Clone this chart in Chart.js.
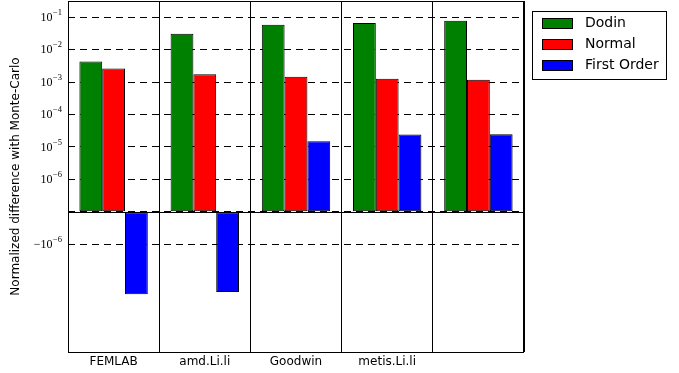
<!DOCTYPE html>
<html>
<head>
<meta charset="utf-8">
<script src="https://cdn.jsdelivr.net/npm/chart.js@4/dist/chart.umd.min.js"></script>
<style>
  html, body { margin: 0; padding: 0; background: #fff; }
  canvas { display: block; }
</style>
</head>
<body>
<canvas id="chart" width="679" height="373"></canvas>
<script>
// Benchmarks and method errors relative to Monte-Carlo
const categories = ['FEMLAB', 'amd.Li.li', 'Goodwin', 'metis.Li.li', ''];
const dodin      = [4.3e-3, 3.1e-2, 5.9e-2, 6.6e-2, 7.8e-2];
const normal     = [2.6e-3, 1.74e-3, 1.45e-3, 1.26e-3, 1.18e-3];
const firstOrder = [-3.5e-5, -2.95e-5, 1.5e-5, 2.4e-5, 2.45e-5];

// Symmetric-log axis: ticks and their labels ("base^exponent")
const yTickValues = [-1e-6, 0, 1e-6, 1e-5, 1e-4, 1e-3, 1e-2, 1e-1];
const yTickLabels = ['\u221210^\u22126', '', '10^\u22126', '10^\u22125', '10^\u22124', '10^\u22123', '10^\u22122', '10^\u22121'];
const yMin = -2.1e-3;
const yMax = 0.316;
const LINTHRESH = 1e-6;

function symlog(v) {
  const a = Math.abs(v);
  if (a <= LINTHRESH) return v / LINTHRESH;
  return Math.sign(v) * (1 + Math.log10(a / LINTHRESH));
}
function symexp(t) {
  const a = Math.abs(t);
  if (a <= 1) return t * LINTHRESH;
  return Math.sign(t) * LINTHRESH * Math.pow(10, a - 1);
}

class SymlogScale extends Chart.Scale {
  static id = 'symlog';
  static defaults = {};
  determineDataLimits() {
    const { min, max } = this.getMinMax(true);
    this.min = this.options.min ?? min;
    this.max = this.options.max ?? max;
  }
  buildTicks() {
    return yTickValues.filter(v => v >= this.min && v <= this.max).map(v => ({ value: v }));
  }
  configure() {
    super.configure();
    this._tStart = symlog(this.min);
    this._tEnd = symlog(this.max);
  }
  getLabelForValue(v) { return String(v); }
  getPixelForValue(v) {
    return this.getPixelForDecimal((symlog(v) - this._tStart) / (this._tEnd - this._tStart));
  }
  getValueForPixel(p) {
    return symexp(this._tStart + this.getDecimalForPixel(p) * (this._tEnd - this._tStart));
  }
}
Chart.register(SymlogScale);

const legendItems = [
  { label: 'Dodin', color: '#008000' },
  { label: 'Normal', color: '#ff0000' },
  { label: 'First Order', color: '#0000ff' }
];

// Frame, zero line, math-style tick labels and the boxed legend
const decorations = {
  id: 'decorations',
  afterDatasetsDraw(chart) {
    const { ctx, chartArea: a } = chart;
    const y = chart.scales.y;
    ctx.save();
    ctx.setLineDash([]);
    ctx.strokeStyle = '#000';
    ctx.lineWidth = 1;
    const y0 = Math.round(y.getPixelForValue(0)) + 0.5;
    ctx.beginPath();
    ctx.moveTo(a.left, y0);
    ctx.lineTo(a.right, y0);
    ctx.stroke();
    ctx.strokeRect(Math.round(a.left) + 0.5, Math.round(a.top) + 0.5,
                   Math.round(a.right - a.left) - 1, Math.round(a.bottom - a.top));

    // tick labels
    ctx.fillStyle = '#000';
    ctx.textBaseline = 'middle';
    y.ticks.forEach((t, i) => {
      const lbl = yTickLabels[yTickValues.indexOf(t.value)];
      if (!lbl) return;
      const [base, exp] = lbl.split('^');
      const py = y.getPixelForValue(t.value);
      const right = a.left - 6;
      ctx.font = '8.5px "Liberation Serif"';
      const ew = ctx.measureText(exp).width;
      ctx.textAlign = 'left';
      ctx.fillText(exp, right - ew, py - 4.5);
      ctx.font = '12px "Liberation Serif"';
      ctx.textAlign = 'right';
      ctx.fillText(base, right - ew - 0.5, py + 0.5);
    });

    // legend
    const lx = 532.5, ly = 11.5, lw = 134, lh = 68;
    ctx.fillStyle = '#fff';
    ctx.fillRect(lx, ly, lw, lh);
    ctx.strokeRect(lx, ly, lw, lh);
    ctx.font = '14px "DejaVu Sans"';
    ctx.textAlign = 'left';
    ctx.textBaseline = 'middle';
    legendItems.forEach((it, i) => {
      const ry = 18.5 + i * 21;
      ctx.fillStyle = it.color;
      ctx.fillRect(543, ry, 30, 10);
      ctx.strokeRect(542.5, ry, 30, 10);
      ctx.fillStyle = '#000';
      ctx.fillText(it.label, 585, ry + 5);
    });
    ctx.restore();
  }
};

new Chart(document.getElementById('chart'), {
  type: 'bar',
  data: {
    labels: categories,
    datasets: [
      { label: 'Dodin', data: dodin, backgroundColor: '#008000' },
      { label: 'Normal', data: normal, backgroundColor: '#ff0000' },
      { label: 'First Order', data: firstOrder, backgroundColor: '#0000ff' }
    ].map(d => Object.assign(d, { borderColor: '#000', borderWidth: 1, borderSkipped: false }))
  },
  options: {
    responsive: false,
    animation: false,
    devicePixelRatio: 1,
    categoryPercentage: 0.75,
    barPercentage: 1.0,
    layout: { padding: { top: 1, right: 155, left: 0, bottom: 0 } },
    plugins: { legend: { display: false }, tooltip: { enabled: false } },
    scales: {
      x: {
        type: 'category',
        offset: true,
        grid: { offset: true, color: '#000', lineWidth: 1, drawTicks: false },
        border: { display: false },
        ticks: { color: '#000', padding: 3, font: { family: 'DejaVu Sans', size: 12 } },
        afterFit(s) { s.height = 21; }
      },
      y: {
        type: 'symlog',
        min: yMin,
        max: yMax,
        grid: { color: '#000', lineWidth: 1, drawTicks: false },
        border: { display: false, dash: [7, 5] },
        ticks: { display: false },
        title: {
          display: true,
          text: 'Normalized difference with Monte-Carlo',
          color: '#000',
          font: { family: 'DejaVu Sans', size: 12 },
          padding: { top: 9, bottom: 0 }
        },
        afterFit(s) { s.width = 68; }
      }
    }
  },
  plugins: [decorations]
});
</script>
</body>
</html>
